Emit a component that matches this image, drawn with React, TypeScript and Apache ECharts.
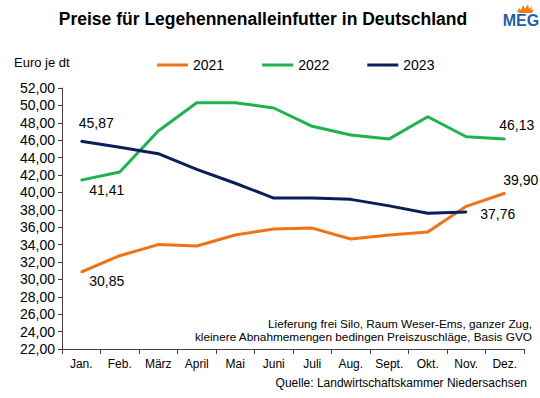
import React, { useEffect, useRef } from "react";
import * as echarts from "echarts";

const months = ["Jan.", "Feb.", "März", "April", "Mai", "Juni", "Juli", "Aug.", "Sept.", "Okt.", "Nov.", "Dez."];
const v2021 = [30.85, 32.72, 34.0, 33.84, 35.1, 35.8, 35.9, 34.65, 35.1, 35.45, 38.4, 39.9];
const v2022 = [41.41, 42.35, 47.05, 50.3, 50.3, 49.7, 47.6, 46.6, 46.15, 48.7, 46.4, 46.13];
const v2023 = [45.87, 45.2, 44.45, 42.65, 41.05, 39.35, 39.35, 39.2, 38.45, 37.6, 37.76];
const seriesNames = ["2021", "2022", "2023"];
const colors = ["#EE7418", "#1DB34F", "#0B1E5B"];

const FONT = "Liberation Sans, Arial, sans-serif";
const fmt = (v: number) => v.toFixed(2).replace(".", ",");

export default function App() {
  const ref = useRef<HTMLDivElement>(null);
  useEffect(() => {
    if (!ref.current) return;
    const chart = echarts.init(ref.current, null, { renderer: "svg" });
    const lbl = (position: any, offset: number[]) => ({
      show: true,
      position,
      offset,
      formatter: (p: any) => fmt(p.value),
      color: "#000",
      fontSize: 14,
      fontFamily: FONT,
    });
    const mk = (arr: number[], labels: Record<number, any>) =>
      arr.map((v, i) => (labels[i] ? { value: v, label: labels[i] } : { value: v }));

    const lineSeries = (idx: number, data: any[], z: number) => ({
      name: seriesNames[idx],
      type: "line",
      data,
      color: colors[idx],
      lineStyle: { width: 3, color: colors[idx] },
      symbol: "circle",
      symbolSize: 2,
      showSymbol: true,
      showAllSymbol: true,
      itemStyle: { color: colors[idx] },
      label: { show: false },
      z,
    });

    chart.setOption({
      animation: false,
      textStyle: { fontFamily: FONT },
      grid: { left: 62, right: 16, top: 88, bottom: 49 },
      legend: {
        data: seriesNames,
        left: 157,
        top: 58,
        padding: 0,
        icon: "rect",
        itemWidth: 31,
        itemHeight: 3,
        itemGap: 38,
        textStyle: { fontSize: 14, color: "#000", fontFamily: FONT },
      },
      title: {
        text: "Preise für Legehennenalleinfutter in Deutschland",
        left: 258,
        top: 5,
        textAlign: "center",
        textStyle: { fontSize: 17.5, fontWeight: "bold", color: "#000", fontFamily: FONT },
      },
      xAxis: {
        type: "category",
        data: months,
        boundaryGap: true,
        axisLine: { lineStyle: { color: "#404040", width: 1 } },
        axisTick: { show: true, length: 5, lineStyle: { color: "#404040" } },
        axisLabel: { color: "#000", fontSize: 12, margin: 9, fontFamily: FONT },
      },
      yAxis: {
        type: "value",
        min: 22,
        max: 52,
        interval: 2,
        axisLine: { show: true, lineStyle: { color: "#404040", width: 1 } },
        axisTick: { show: true, length: 4, lineStyle: { color: "#404040" } },
        splitLine: { show: false },
        axisLabel: { color: "#000", fontSize: 14, margin: 7, fontFamily: FONT, formatter: (v: number) => fmt(v) },
      },
      series: [
        lineSeries(0, mk(v2021, { 0: lbl("right", [2, 9]), 11: lbl("top", [16, 0]) }), 3),
        lineSeries(1, mk(v2022, { 0: lbl("right", [2, 10]), 11: lbl("top", [12, -1]) }), 2),
        lineSeries(2, mk(v2023, { 0: lbl("top", [15, -5]), 10: lbl("right", [8, 2]) }), 4),
      ],
      graphic: [
        {
          type: "text",
          left: 14,
          top: 56,
          style: { text: "Euro je dt", fontSize: 13, fill: "#000", fontFamily: FONT },
        },
        {
          type: "text",
          x: 532,
          y: 324,
          style: {
            text: "Lieferung frei Silo, Raum Weser-Ems, ganzer Zug,",
            fontSize: 11.8,
            fill: "#000",
            align: "right",
            verticalAlign: "middle",
            fontFamily: FONT,
          },
        },
        {
          type: "text",
          x: 532,
          y: 336.5,
          style: {
            text: "kleinere Abnahmemengen bedingen Preiszuschläge, Basis GVO",
            fontSize: 11.8,
            fill: "#000",
            align: "right",
            verticalAlign: "middle",
            fontFamily: FONT,
          },
        },
        {
          type: "text",
          x: 527,
          y: 383,
          style: {
            text: "Quelle: Landwirtschaftskammer Niedersachsen",
            fontSize: 12,
            fill: "#000",
            align: "right",
            verticalAlign: "middle",
            fontFamily: FONT,
          },
        },
        {
          type: "polygon",
          shape: {
            points: [
              [517, 12], [519, 8], [521, 10], [523, 5], [525, 9], [528, 4], [529, 9], [532, 6], [531, 10], [534, 9], [532, 13], [520, 13],
            ],
          },
          style: { fill: "#F07D1A" },
        },
        {
          type: "text",
          x: 521,
          y: 20,
          style: {
            text: "MEG",
            fontSize: 16,
            fontWeight: "bold",
            fill: "#1F5FAA",
            align: "center",
            verticalAlign: "middle",
            fontFamily: "Liberation Sans Narrow, Liberation Sans, Arial, sans-serif",
          },
        },
      ],
    });
    return () => chart.dispose();
  }, []);
  return <div ref={ref} style={{ width: 540, height: 398, position: "absolute", left: 0, top: 0 }} />;
}
